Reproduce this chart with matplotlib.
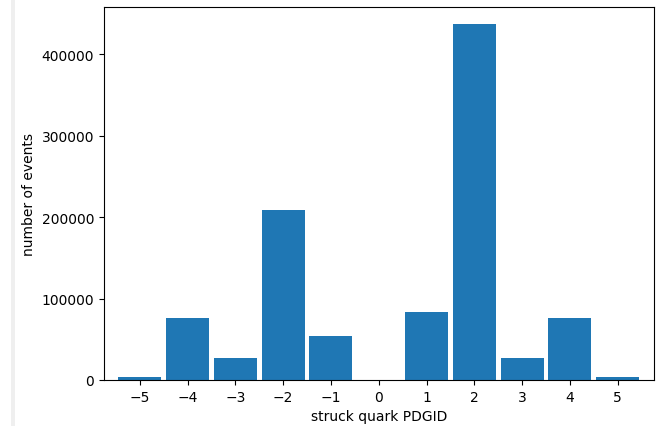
import matplotlib
matplotlib.use('Agg')
import matplotlib.pyplot as plt
from matplotlib.patches import Rectangle

# struck quark PDG ids and event counts
pdgid = [-5, -4, -3, -2, -1, 0, 1, 2, 3, 4, 5]
counts = [3300, 76500, 27000, 208500, 54300, 0, 83000, 437000, 27000, 76500, 3300]
tick_labels = [str(i) for i in pdgid]

fig = plt.figure(figsize=(6.66, 4.27), dpi=100)
# thin grey strip on the left edge of the screenshot
fig.patches.append(Rectangle((11 / 666, 0), 4 / 666, 1, transform=fig.transFigure,
                             facecolor='#efefef', edgecolor='none', zorder=0))
ax = fig.add_axes([104 / 666, 1 - 381 / 427, 550 / 666, 373 / 427])

ax.bar(pdgid, counts, width=0.9, color='#1f77b4')
ax.set_xlim(-5.75, 5.76)
ax.set_ylim(0, 457700)
ax.set_xticks(pdgid)
ax.set_xticklabels([t.replace('-', '\u2212') for t in tick_labels])
ax.set_yticks([0, 100000, 200000, 300000, 400000])
ax.set_xlabel('struck quark PDGID')
ax.set_ylabel('number of events')

fig.savefig('out.png', dpi=100)
